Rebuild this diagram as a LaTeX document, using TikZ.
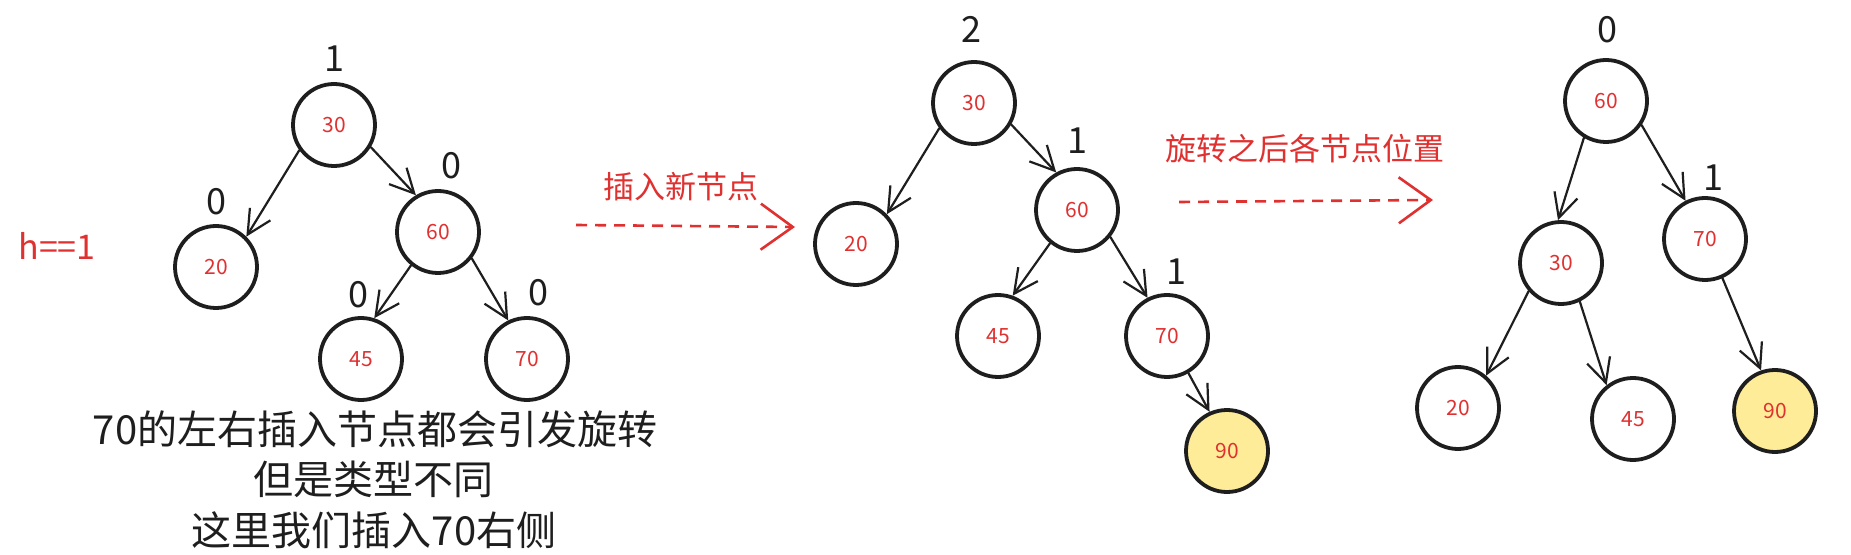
\documentclass[tikz,border=0pt]{standalone}
\usepackage{fontspec}
\setmainfont{Noto Sans CJK SC}
\usetikzlibrary{arrows.meta}
\definecolor{exred}{HTML}{E03131}
\definecolor{exyel}{HTML}{FFEC99}
\definecolor{exblk}{HTML}{1E1E1E}
\begin{document}
\begin{tikzpicture}[x=0.5pt,y=-0.5pt,
  nd/.style={circle,draw=exblk,line width=1.9pt,minimum size=41pt,inner sep=0pt,
    font=\fontsize{10.5}{10.5}\selectfont,text=exred},
  hl/.style={nd,fill=exyel},
  bal/.style={font=\fontsize{18}{18}\selectfont,text=exblk,inner sep=0pt},
  edgearrow/.style={draw=exblk,line width=1.1pt,line cap=round,
    -{Straight Barb[length=12pt,width=12pt,line width=1.1pt]}},
  redarrow/.style={draw=exred,line width=1.3pt,dash pattern=on 5.5pt off 4pt,
    -{Straight Barb[length=16pt,width=23pt,line width=1.3pt]}},
  redtext/.style={font=\fontsize{15.5}{15.5}\selectfont,text=exred,inner sep=0pt},
  note/.style={font=\fontsize{20}{25}\selectfont,text=exblk,align=center,inner sep=0pt}]
\fill[white] (0,0) rectangle (1851,555);
\useasboundingbox (0,0) rectangle (1851,555);

% ---------- tree 1 ----------
\node[nd] (a30) at (334,125) {30};
\node[nd] (a20) at (216,267) {20};
\node[nd] (a60) at (438,232) {60};
\node[nd] (a45) at (361,359) {45};
\node[nd] (a70) at (527,359) {70};
\node[bal] (ab30) at (334,59) {1};
\node[bal] (ab20) at (216,202) {0};
\node[bal] (ab60) at (451,166) {0};
\node[bal] (ab45) at (358,295) {0};
\node[bal] (ab70) at (538,293) {0};
\draw[edgearrow] (a30.216) -- (a20.45);
\draw[edgearrow] (a30.329) -- (a60.121);
\draw[edgearrow] (a60.231) -- (a45.72);
\draw[edgearrow] (a60.322) -- (a70.116);
\node[font=\fontsize{17}{17}\selectfont,text=exred,inner sep=0pt] (hlabel) at (57,246) {h==1};
\node[note] (noteA) at (375,429) {70的左右插入节点都会引发旋转};
\node[note] (noteB) at (373,479) {但是类型不同};
\node[note] (noteC) at (374,530) {这里我们插入70右侧};

% ---------- arrow 1 ----------
\node[redtext] (lab1) at (681,187) {插入新节点};
\coordinate (r1s) at (576,225);
\coordinate (r1e) at (795,227);
\draw[redarrow] (r1s) -- (r1e);

% ---------- tree 2 ----------
\node[nd] (b30) at (974,103) {30};
\node[nd] (b20) at (856,244) {20};
\node[nd] (b60) at (1077,210) {60};
\node[nd] (b45) at (998,336) {45};
\node[nd] (b70) at (1167,336) {70};
\node[hl] (b90) at (1227,451) {90};
\node[bal] (bb30) at (971,29) {2};
\node[bal] (bb60) at (1077,141) {1};
\node[bal] (bb70) at (1176,272) {1};
\draw[edgearrow] (b30.216) -- (b20.44);
\draw[edgearrow] (b30.330) -- (b60.119);
\draw[edgearrow] (b60.231) -- (b45.70);
\draw[edgearrow] (b60.321) -- (b70.117);
\draw[edgearrow] (b70.300) -- (b90.114);

% ---------- arrow 2 ----------
\node[redtext] (lab2) at (1305,149) {旋转之后各节点位置};
\coordinate (r2s) at (1179,202);
\coordinate (r2e) at (1433,200);
\draw[redarrow] (r2s) -- (r2e);

% ---------- tree 3 ----------
\node[nd] (c60) at (1606,101) {60};
\node[nd] (c30) at (1561,263) {30};
\node[nd] (c70) at (1705,239) {70};
\node[nd] (c20) at (1458,408) {20};
\node[nd] (c45) at (1633,419) {45};
\node[hl] (c90) at (1775,411) {90};
\node[bal] (cb60) at (1607,30) {0};
\node[bal] (cb70) at (1713,178) {1};
\draw[edgearrow] (c60.239) -- (c30.94);
\draw[edgearrow] (c60.326) -- (c70.117);
\draw[edgearrow] (c30.221) -- (c20.49);
\draw[edgearrow] (c30.296) -- (c45.128);
\draw[edgearrow] (c70.294) -- (c90.109);
\end{tikzpicture}
\end{document}
